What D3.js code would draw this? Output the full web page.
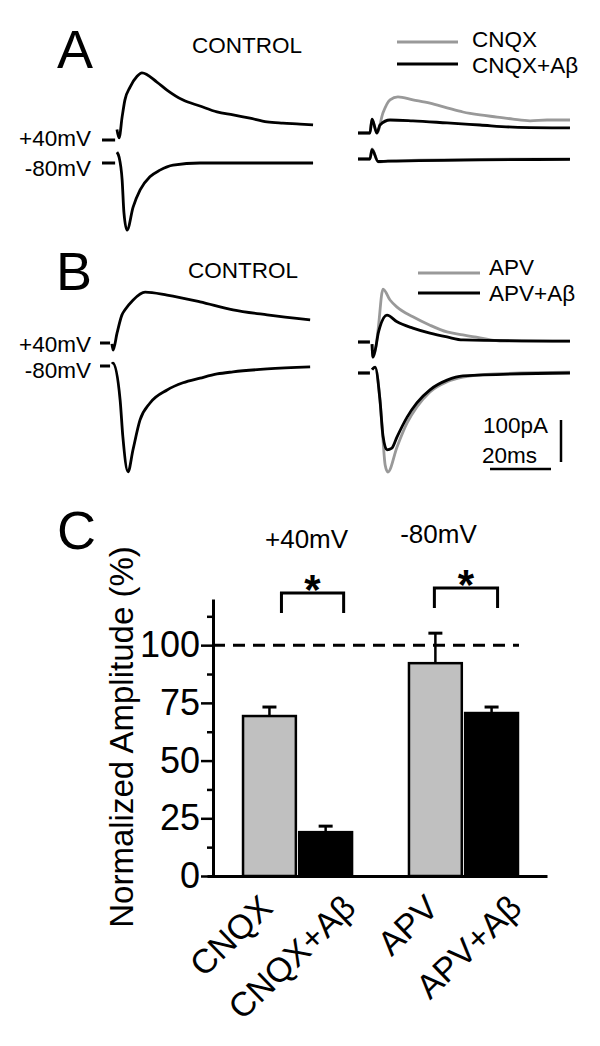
<!DOCTYPE html>
<html>
<head>
<meta charset="utf-8">
<script src="https://cdn.jsdelivr.net/npm/d3@7"></script>
<style>
  body { margin: 0; background: #fff; }
  svg { display: block; font-family: "Liberation Sans", Arial, sans-serif; }
</style>
</head>
<body>
<div id="chart"></div>
<script>
  'use strict';

  // ---- traces: [time (ms), current (pA)], null = blanked stimulus artifact
  const ctrlA40 = [[0,0],[4.3,0],[4.6,null],[4.9,25],[5.6,5],[6.6,55],[7.5,95],[9.2,126],[11.5,152],[13.1,160],
    [18.0,138],[21.3,119],[26.6,95],[32.1,81],[37.7,67],[43.0,60],[48.5,52],[54.1,43],[59.3,40],[64.9,38],[69.2,36]];
  const ctrlA80 = [[0,0],[4.3,0],[4.6,null],[4.9,26],[5.6,14],[6.6,-40],[7.2,-119],[8.2,-160],[10.2,-105],
    [12.5,-64],[15.7,-33],[19.0,-17],[23.3,-5],[32.1,0],[69.2,0]];
  const cnqx40 = [[0,0],[3.9,0],[4.6,33],[6.2,0],[8.2,48],[10.5,79],[13.1,86],[18.0,79],[23.6,71],[29.2,60],
    [34.4,50],[40.0,43],[45.6,38],[50.8,33],[56.4,29],[62.0,31],[69.5,31]];
  const cnqxAb40 = [[0,0],[3.9,0],[4.6,33],[6.2,0],[7.2,19],[10.5,31],[18.0,29],[29.2,24],[40.0,19],[50.8,14],[69.5,12]];
  const cnqx80 = [[0,0],[3.9,0],[4.6,24],[6.6,-7],[9.8,-5],[20,-3],[40,-1],[69.5,0]];
  const cnqxAb80 = [[0,0],[3.9,0],[4.6,22],[6.6,-6],[9.8,-5],[20,-4],[40,-2],[69.5,-1]];

  const ctrlB40 = [[0,0],[3.3,0],[3.6,null],[3.9,-2],[4.3,-17],[5.6,24],[7.2,67],[8.2,79],[10.8,102],[14.8,121],
    [22.0,114],[32.8,98],[43.6,79],[54.8,67],[68.9,55]];
  const ctrlB80 = [[0,0],[3.3,0],[3.6,null],[3.9,5],[4.3,7],[6.6,-81],[7.5,-169],[9.2,-252],[10.8,-200],[13.1,-129],
    [16.4,-88],[22.0,-57],[27.2,-40],[32.8,-29],[38.4,-19],[43.6,-14],[54.8,-7],[68.9,-2]];
  const apv40 = [[0,0],[3.9,0],[4.3,null],[4.6,-5],[4.9,-36],[5.9,-10],[6.6,30],[8.2,126],[10.5,100],[12.8,83],
    [18.0,60],[23.6,40],[29.2,24],[34.4,17],[40.0,10],[47.5,2],[69.5,2]];
  const apvAb40 = [[0,0],[3.9,0],[4.3,null],[4.6,-5],[4.9,-36],[5.9,-10],[6.6,20],[7.2,36],[9.5,64],[12.8,48],
    [18.0,33],[23.6,21],[29.2,12],[34.4,5],[69.5,2]];
  const apv80 = [[0,0],[3.9,0],[4.3,null],[4.6,8],[5.6,14],[7.2,-64],[8.2,-160],[8.9,-219],[9.8,-236],[12.8,-176],
    [16.1,-119],[19.3,-81],[23.6,-45],[29.2,-21],[34.4,-10],[45,-2],[69.5,2]];
  const apvAb80 = [[0,0],[3.9,0],[4.3,null],[4.6,8],[5.6,14],[7.2,-64],[8.2,-150],[9.5,-183],[11.1,-179],[12.8,-152],
    [16.1,-105],[19.3,-71],[23.6,-40],[29.2,-17],[34.4,-7],[69.5,0]];

  // ---- bar chart (panel C)
  const groups = ['+40mV', '-80mV'];
  const conditions = ['drug', 'drugAb'];
  const categories = ['CNQX', 'CNQX+Aβ', 'APV', 'APV+Aβ'];
  const amplitude = [69.3, 19.0, 92.2, 70.6];
  const amplitudeErr = [3.9, 2.6, 13.0, 2.6];
  const yTicks = [0, 25, 50, 75, 100];
  const yMinorTicks = [12.5, 37.5, 62.5, 87.5, 112.5];

  const grey = '#999';
  const barGrey = '#c0c0c0';

  const svg = d3.select('#chart').append('svg')
    .attr('width', 600)
    .attr('height', 1046);

  // panel letters
  svg.selectAll('text.letter')
    .data([['A', 57, 68], ['B', 56, 290], ['C', 57, 549]])
    .enter().append('text')
    .attr('class', 'letter')
    .attr('x', d => d[1])
    .attr('y', d => d[2])
    .attr('font-size', '54px')
    .text(d => d[0]);

  const line = (sx, sy) => d3.line()
    .defined(d => d[1] !== null)
    .x(d => sx(d[0]))
    .y(d => sy(d[1]))
    .curve(d3.curveMonotoneX);

  function tracePanel(x0, base40, base80, traces) {
    const sx = d3.scaleLinear().domain([0, 20]).range([x0, x0 + 61]);
    const sy40 = d3.scaleLinear().domain([0, 100]).range([base40, base40 - 42]);
    const sy80 = d3.scaleLinear().domain([0, 100]).range([base80, base80 - 42]);
    const g = svg.append('g');
    traces.forEach(t => {
      g.append('path')
        .datum(t.data)
        .attr('d', line(sx, t.v === 40 ? sy40 : sy80))
        .attr('fill', 'none')
        .attr('stroke', t.color)
        .attr('stroke-width', 2.8)
        .attr('stroke-linejoin', 'round');
    });
    return { sx, sy40, sy80 };
  }

  // panel A
  tracePanel(102, 140, 163, [
    { data: ctrlA40, v: 40, color: '#000' },
    { data: ctrlA80, v: 80, color: '#000' }
  ]);
  tracePanel(358, 133, 159, [
    { data: cnqx40, v: 40, color: grey },
    { data: cnqxAb40, v: 40, color: '#000' },
    { data: cnqx80, v: 80, color: grey },
    { data: cnqxAb80, v: 80, color: '#000' }
  ]);
  // panel B
  tracePanel(100, 343, 366, [
    { data: ctrlB40, v: 40, color: '#000' },
    { data: ctrlB80, v: 80, color: '#000' }
  ]);
  const bRight = tracePanel(358, 342, 373, [
    { data: apv40, v: 40, color: grey },
    { data: apvAb40, v: 40, color: '#000' },
    { data: apv80, v: 80, color: grey },
    { data: apvAb80, v: 80, color: '#000' }
  ]);

  // texts for trace panels
  const smallText = [
    ['CONTROL', 192, 53, 'start'], ['+40mV', 91, 146, 'end'], ['-80mV', 91, 176, 'end'],
    ['CONTROL', 188, 278, 'start'], ['+40mV', 91, 352, 'end'], ['-80mV', 91, 378, 'end'],
    ['CNQX', 472, 47, 'start'], ['CNQX+Aβ', 472, 73, 'start'],
    ['APV', 489, 275, 'start'], ['APV+Aβ', 489, 301, 'start'],
    ['100pA', 483, 433, 'start'], ['20ms', 482, 463, 'start']
  ];
  svg.append('g').selectAll('text').data(smallText).enter().append('text')
    .attr('x', d => d[1]).attr('y', d => d[2])
    .attr('text-anchor', d => d[3])
    .attr('font-size', '22.5px')
    .text(d => d[0]);

  // legends
  const legendLines = [[397, 458, 42, grey], [397, 458, 64, '#000'], [418, 480, 273, grey], [418, 480, 293, '#000']];
  svg.append('g').selectAll('line').data(legendLines).enter().append('line')
    .attr('x1', d => d[0]).attr('x2', d => d[1])
    .attr('y1', d => d[2]).attr('y2', d => d[2])
    .attr('stroke', d => d[3]).attr('stroke-width', 3);

  // scale bar
  const barLenX = bRight.sx(20) - bRight.sx(0);
  const barLenY = bRight.sy40(0) - bRight.sy40(100);
  svg.append('line').attr('x1', 561).attr('x2', 561).attr('y1', 420).attr('y2', 420 + barLenY)
    .attr('stroke', '#000').attr('stroke-width', 2.5);
  svg.append('line').attr('x1', 490).attr('x2', 490 + barLenX).attr('y1', 469).attr('y2', 469)
    .attr('stroke', '#000').attr('stroke-width', 2.5);

  // ---- panel C
  const y = d3.scaleLinear().domain([0, 120]).range([876, 599]);
  const xGroup = d3.scaleBand().domain(groups).range([207, 547])
    .paddingInner(0.343).paddingOuter(0.196).align(0.554);
  const xCond = d3.scaleBand().domain(conditions).range([0, xGroup.bandwidth()]).paddingInner(0.06);

  const bars = categories.map((c, i) => ({
    name: c,
    group: groups[Math.floor(i / 2)],
    cond: conditions[i % 2],
    value: amplitude[i],
    err: amplitudeErr[i]
  }));
  const barX = d => xGroup(d.group) + xCond(d.cond);
  const barC = d => barX(d) + xCond.bandwidth() / 2;

  // dashed 100% line
  svg.append('line')
    .attr('x1', 213).attr('x2', xGroup(groups[1]) + xGroup.bandwidth() + 1)
    .attr('y1', y(100)).attr('y2', y(100))
    .attr('stroke', '#000').attr('stroke-width', 3)
    .attr('stroke-dasharray', '12,8');

  // error bars
  const errG = svg.append('g');
  errG.selectAll('line.v').data(bars).enter().append('line')
    .attr('x1', barC).attr('x2', barC)
    .attr('y1', d => y(d.value)).attr('y2', d => y(d.value + d.err))
    .attr('stroke', '#000').attr('stroke-width', 2.5);
  errG.selectAll('line.cap').data(bars).enter().append('line')
    .attr('x1', d => barC(d) - 7).attr('x2', d => barC(d) + 7)
    .attr('y1', d => y(d.value + d.err)).attr('y2', d => y(d.value + d.err))
    .attr('stroke', '#000').attr('stroke-width', 3);

  svg.append('g').selectAll('rect').data(bars).enter().append('rect')
    .attr('x', barX)
    .attr('y', d => y(d.value))
    .attr('width', xCond.bandwidth())
    .attr('height', d => y(0) - y(d.value))
    .attr('fill', d => d.cond === 'drug' ? barGrey : '#000')
    .attr('stroke', '#000')
    .attr('stroke-width', 2.5);

  // axes
  const yAxis = svg.append('g').attr('transform', 'translate(213,0)')
    .call(d3.axisLeft(y).tickValues(yTicks).tickSize(12).tickPadding(1).tickSizeOuter(0));
  yAxis.select('.domain').attr('stroke-width', 3);
  yAxis.selectAll('.tick line').attr('stroke-width', 2.5);
  yAxis.selectAll('.tick text').attr('font-size', '36px').attr('font-family', null).attr('fill', '#000');
  const yMinor = svg.append('g').attr('transform', 'translate(213,0)')
    .call(d3.axisLeft(y).tickValues(yMinorTicks).tickSize(6).tickFormat('').tickSizeOuter(0));
  yMinor.select('.domain').remove();
  yMinor.selectAll('.tick line').attr('stroke-width', 2.5);

  const xAxis = svg.append('g').attr('transform', `translate(0,${y(0)})`)
    .call(d3.axisBottom(xGroup).tickSize(0).tickFormat('').tickSizeOuter(0));
  xAxis.select('.domain').attr('stroke-width', 3);

  // category labels
  const labelShift = { drug: [5, 34], drugAb: [32, 34] };
  svg.append('g').selectAll('text').data(bars).enter().append('text')
    .attr('transform', d => `translate(${barC(d) + labelShift[d.cond][0]},${y(0) + labelShift[d.cond][1]}) rotate(-44)`)
    .attr('text-anchor', 'end')
    .attr('font-size', '34px')
    .text(d => d.name);

  // y label
  svg.append('text')
    .attr('transform', 'translate(133,737) rotate(-90)')
    .attr('text-anchor', 'middle')
    .attr('font-size', '33px')
    .text('Normalized Amplitude (%)');

  // significance brackets
  const brackets = [
    { group: groups[0], top: 593, shift: [12, 18], labelDx: 9 },
    { group: groups[1], top: 588, shift: [-1, 6], labelDx: -25 }
  ];
  const bracketG = svg.append('g');
  brackets.forEach(b => {
    const pair = bars.filter(d => d.group === b.group);
    const x1 = barC(pair[0]) + b.shift[0];
    const x2 = barC(pair[1]) + b.shift[1];
    bracketG.append('path')
      .attr('d', `M${x1},${b.top + 20}V${b.top}H${x2}V${b.top + 20}`)
      .attr('fill', 'none').attr('stroke', '#000').attr('stroke-width', 3);
    bracketG.append('text')
      .attr('x', (x1 + x2) / 2).attr('y', b.top + 11)
      .attr('text-anchor', 'middle')
      .attr('font-size', '42px').attr('font-weight', 'bold')
      .text('*');
    bracketG.append('text')
      .attr('x', xGroup(b.group) + xGroup.bandwidth() / 2 + b.labelDx)
      .attr('y', b.top - 45)
      .attr('text-anchor', 'middle')
      .attr('font-size', '26px')
      .text(b.group);
  });
</script>
</body>
</html>
